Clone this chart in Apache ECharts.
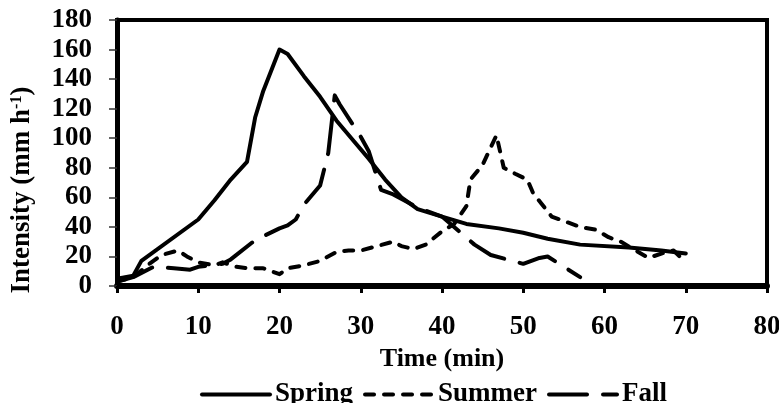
<!DOCTYPE html>
<html>
<head>
<meta charset="utf-8">
<script src="https://cdn.jsdelivr.net/npm/echarts@6/dist/echarts.min.js"></script>
<style>
  html, body { margin: 0; padding: 0; background: #fff; }
  #chart { width: 779px; height: 403px; }
</style>
</head>
<body>
<div id="chart"></div>
<script>
// time (min) / intensity (mm h-1)
var springTime = [0, 2, 3, 10, 12, 14, 16, 17, 18, 20, 21, 23, 25, 27, 29, 31, 33, 35, 37, 40, 43, 47, 50, 53, 57, 63, 67, 70];
var springValue = [5, 7, 17, 45, 58, 72, 84, 114, 132, 160, 157, 142, 128, 112, 99, 86, 72, 60, 52, 47, 42, 39, 36, 32, 28, 26, 24, 22];

var summerTime = [0, 2, 4, 5.5, 7.5, 8.6, 10, 12, 13, 14.7, 16, 18, 20, 21, 23, 25, 27, 28.5, 30, 32, 34, 35, 36.5, 38, 40, 41.5, 43, 43.5, 45, 46.7, 47.6, 49, 50.5, 51.2, 52.2, 53.5, 55, 57, 59, 60.5, 62, 65.4, 67.6, 68.5, 70];
var summerValue = [3, 6, 15, 21, 24, 20, 16, 14, 16, 13, 12, 12, 8, 12, 14, 17, 23, 24, 24, 27, 30, 27, 25, 28, 37, 42, 54, 72, 82, 102, 80, 76, 72, 63, 56, 47, 44, 40, 38, 33, 30, 19, 23, 24, 16];

var fallTime = [0, 2, 4.5, 7, 9, 10, 13, 14, 17, 20, 21, 22, 23, 25, 26, 26.8, 27.4, 30, 31, 32.5, 34, 37, 40, 44, 46, 50, 52, 53, 57];
var fallValue = [3, 6, 13, 12, 11, 13, 15, 18, 31, 39, 41, 45, 55, 68, 90, 129, 123, 101, 91, 65, 62, 53, 47, 28, 21, 15, 19, 20, 6];

var xTicks = [0, 10, 20, 30, 40, 50, 60, 70, 80];
var yTicks = [0, 20, 40, 60, 80, 100, 120, 140, 160, 180];

function pairs(xs, ys) {
  return xs.map(function (x, i) { return [x, ys[i]]; });
}

var font = "'Liberation Serif', 'Times New Roman', serif";

var chart = echarts.init(document.getElementById('chart'));
chart.setOption({
  animation: false,
  grid: {
    left: 117,
    right: 12,
    top: 20,
    bottom: 117,
    outerBoundsMode: 'none',
    containLabel: false,
    show: true,
    borderColor: '#000',
    borderWidth: 4
  },
  legend: {
    top: 376,
    left: 195,
    itemWidth: 68,
    itemHeight: 12,
    itemGap: 10,
    itemStyle: { opacity: 0 },
    lineStyle: { width: 4 },
    textStyle: { fontFamily: font, fontWeight: 'bold', fontSize: 27, color: '#000' },
    data: ['Spring', 'Summer', 'Fall']
  },
  xAxis: {
    type: 'value',
    min: xTicks[0],
    max: xTicks[xTicks.length - 1],
    interval: 10,
    name: 'Time (min)',
    nameLocation: 'middle',
    nameGap: 54,
    nameTextStyle: { fontFamily: font, fontWeight: 'bold', fontSize: 26, color: '#000' },
    axisLine: { lineStyle: { color: '#000', width: 6 } },
    axisTick: { inside: false, length: 7, lineStyle: { color: '#000', width: 3 } },
    axisLabel: { margin: 28, fontFamily: font, fontWeight: 'bold', fontSize: 27, color: '#000' },
    splitLine: { show: false }
  },
  yAxis: {
    type: 'value',
    min: yTicks[0],
    max: yTicks[yTicks.length - 1],
    interval: 20,
    name: '{a|Intensity (mm h}{s|-1}{a|)}',
    nameLocation: 'middle',
    nameGap: 81,
    nameTextStyle: {
      padding: [0, 74, 0, 0],
      rich: {
        a: { fontFamily: font, fontWeight: 'bold', fontSize: 27, color: '#000' },
        s: { fontFamily: font, fontWeight: 'bold', fontSize: 16, color: '#000', verticalAlign: 'top' }
      }
    },
    axisLine: { show: true, lineStyle: { color: '#000', width: 5 } },
    axisTick: { show: true, length: 8, lineStyle: { color: '#333', width: 1.5 } },
    axisLabel: { margin: 25, fontFamily: font, fontWeight: 'bold', fontSize: 27, color: '#000' },
    splitLine: { show: false }
  },
  series: [
    {
      name: 'Spring',
      type: 'line',
      data: pairs(springTime, springValue),
      showSymbol: false,
      symbol: 'none',
      lineStyle: { color: '#000', width: 4, cap: 'round', join: 'round' },
      itemStyle: { color: '#000' }
    },
    {
      name: 'Summer',
      type: 'line',
      data: pairs(summerTime, summerValue),
      showSymbol: false,
      symbol: 'none',
      lineStyle: { color: '#000', width: 4, type: [9, 10], cap: 'round', join: 'round' },
      itemStyle: { color: '#000' }
    },
    {
      name: 'Fall',
      type: 'line',
      data: pairs(fallTime, fallValue),
      showSymbol: false,
      symbol: 'none',
      lineStyle: { color: '#000', width: 4, type: [38, 16], cap: 'round', join: 'round' },
      itemStyle: { color: '#000' }
    }
  ]
});
</script>
</body>
</html>
